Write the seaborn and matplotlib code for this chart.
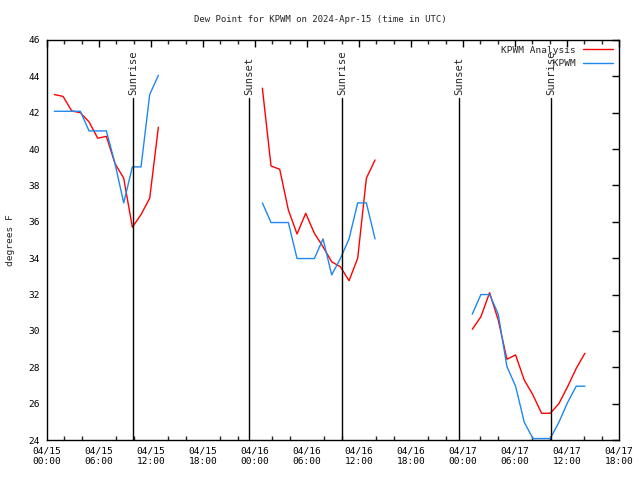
import pandas as pd
import numpy as np
import matplotlib
matplotlib.use("Agg")
import matplotlib.pyplot as plt
import matplotlib.dates as mdates
from matplotlib.lines import Line2D
import seaborn as sns

# ---------- DATA ----------
seg_starts = ["2024-04-15 00:51", "2024-04-16 00:51", "2024-04-17 01:04"]

analysis_seg1 = [43.0, 42.9, 42.1, 42.0, 41.5, 40.6, 40.7, 39.2, 38.4, 35.7, 36.4, 37.3, 41.2]
analysis_seg2 = [43.35, 39.07, 38.89, 36.65, 35.33, 36.47, 35.37, 34.63, 33.8, 33.53, 32.76, 34.0, 38.4, 39.4]
analysis_seg3 = [30.09, 30.78, 32.1, 30.6, 28.44, 28.68, 27.3, 26.48, 25.47, 25.47, 26.0, 26.93, 27.94, 28.77]

obs_seg1 = [42.08, 42.08, 42.08, 42.08, 41.0, 41.0, 41.0, 39.2, 37.04, 39.02, 39.02, 43.0, 44.06]
obs_seg2 = [37.04, 35.96, 35.96, 35.96, 33.98, 33.98, 33.98, 35.06, 33.08, 33.98, 35.06, 37.04, 37.04, 35.06]
obs_seg3 = [30.92, 32.0, 32.0, 30.92, 28.04, 26.96, 24.98, 24.08, 24.08, 24.08, 24.98, 26.06, 26.96, 26.96]

sun_times = ["2024-04-15 09:57", "2024-04-15 23:21", "2024-04-16 10:04",
             "2024-04-16 23:32", "2024-04-17 10:10"]
sun_labels = ["Sunrise", "Sunset", "Sunrise", "Sunset", "Sunrise"]

# ---------- BUILD TABLE ----------
rows = []
series = {
    "KPWM Analysis": [analysis_seg1, analysis_seg2, analysis_seg3],
    "KPWM": [obs_seg1, obs_seg2, obs_seg3],
}
for source, segs in series.items():
    for i, vals in enumerate(segs):
        times = pd.date_range(seg_starts[i], periods=len(vals), freq="h")
        for t, v in zip(times, vals):
            rows.append({"time": t, "dewpt": v, "source": source, "seg": i})
df = pd.DataFrame(rows)

# ---------- PLOT ----------
sns.set_style("white")
plt.rcParams["font.family"] = ["DejaVu Sans Mono"]
fs = 6.8
plt.rcParams["font.size"] = fs

colors = {"KPWM Analysis": "#ff0000", "KPWM": "#1e88f0"}

fig = plt.figure(figsize=(6.4, 4.8), dpi=100)
ax = fig.add_axes([47 / 640, 40 / 480, 572 / 640, 400 / 480])

sns.lineplot(
    data=df, x="time", y="dewpt", hue="source", units="seg",
    estimator=None, palette=colors, linewidth=1, legend=False, ax=ax
)

# sunrise / sunset markers
for t, lab in zip(sun_times, sun_labels):
    ts = pd.Timestamp(t)
    ax.axvline(ts, ymin=0, ymax=0.855, color="black", linewidth=1)
    ax.text(ts, 0.862, lab, transform=ax.get_xaxis_transform(),
            rotation=90, ha="center", va="bottom", fontsize=7.6)

ax.set_xlim(pd.Timestamp("2024-04-15 00:00"), pd.Timestamp("2024-04-17 18:00"))
ax.set_ylim(24, 46)
ax.set_yticks(np.arange(24, 47, 2))

ax.xaxis.set_major_locator(mdates.HourLocator(byhour=[0, 6, 12, 18]))
ax.xaxis.set_minor_locator(mdates.HourLocator(byhour=range(0, 24, 2)))
ax.xaxis.set_major_formatter(mdates.DateFormatter("%m/%d\n%H:%M"))

ax.tick_params(axis="both", which="major", direction="in", length=5, width=1,
               top=True, right=True, labelsize=fs, colors="black", pad=5)
ax.tick_params(axis="x", which="minor", direction="in", length=3, width=1,
               top=True, bottom=True)

for sp in ax.spines.values():
    sp.set_color("black")
    sp.set_linewidth(1)

ax.set_xlabel("")
ax.set_ylabel("degrees F", fontsize=fs, labelpad=10)
fig.text(0.5, 1 - 19 / 480, "Dew Point for KPWM on 2024-Apr-15 (time in UTC)",
         ha="center", va="center", fontsize=6.5)

names = list(series.keys())
width = max(len(n) for n in names)
handles = [Line2D([], [], color=colors[n], linewidth=1) for n in names]
labels = [n.rjust(width) for n in names]
ax.legend(handles, labels, loc="upper right", frameon=False, markerfirst=False,
          handlelength=3.2, handletextpad=0.8, labelspacing=0.45,
          borderaxespad=0.2, prop={"family": "DejaVu Sans Mono", "size": fs})

fig.savefig("out.png", dpi=100)
